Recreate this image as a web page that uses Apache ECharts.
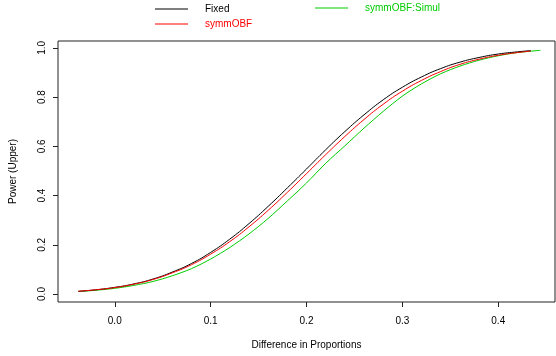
<!DOCTYPE html>
<html>
<head>
<meta charset="utf-8">
<script src="https://cdn.jsdelivr.net/npm/echarts@6/dist/echarts.min.js"></script>
<style>
  html, body { margin: 0; padding: 0; background: #fff; }
  #chart { width: 556px; height: 356px; }
</style>
</head>
<body>
<div id="chart"></div>
<script>
// Difference in proportions at which power was evaluated
var diffFixed = [-0.038, -0.02, 0.00, 0.02, 0.04, 0.06, 0.08, 0.10, 0.12, 0.14, 0.16, 0.18, 0.20,
                 0.22, 0.24, 0.26, 0.28, 0.30, 0.32, 0.34, 0.36, 0.38, 0.40, 0.42, 0.434];
var diffSimul = [-0.038, -0.02, 0.00, 0.02, 0.04, 0.06, 0.08, 0.10, 0.12, 0.14, 0.16, 0.18, 0.20,
                 0.22, 0.24, 0.26, 0.28, 0.30, 0.32, 0.34, 0.36, 0.38, 0.40, 0.42, 0.444];

// Upper power for each design
var powerFixed = [0.011, 0.017, 0.027, 0.041, 0.061, 0.089, 0.124, 0.169, 0.223, 0.286, 0.356, 0.431, 0.508,
                  0.586, 0.660, 0.728, 0.789, 0.840, 0.882, 0.916, 0.942, 0.961, 0.975, 0.984, 0.989];
var powerSymmOBF = [0.011, 0.017, 0.026, 0.040, 0.059, 0.086, 0.119, 0.162, 0.213, 0.273, 0.340, 0.413, 0.489,
                    0.566, 0.640, 0.709, 0.771, 0.824, 0.868, 0.904, 0.933, 0.954, 0.970, 0.981, 0.987];
var powerSimul = [0.010, 0.015, 0.023, 0.035, 0.051, 0.074, 0.103, 0.142, 0.189, 0.244, 0.307, 0.378, 0.451,
                  0.531, 0.602, 0.674, 0.742, 0.804, 0.854, 0.895, 0.926, 0.950, 0.968, 0.981, 0.990];

var xTicks = [0, 0.1, 0.2, 0.3, 0.4];
var yTicks = [0, 0.2, 0.4, 0.6, 0.8, 1.0];

var names = ['Fixed', 'symmOBF', 'symmOBF:Simul'];
var colors = ['#000000', '#ff0000', '#00cc00'];

function pairs(xs, ys) {
  return xs.map(function (x, i) { return [x, ys[i]]; });
}

var FONT = '"Liberation Sans", Arial, Helvetica, sans-serif';
var chart = echarts.init(document.getElementById('chart'), null, { renderer: 'canvas' });

var legendCommon = {
  orient: 'vertical', top: 3, padding: 0, icon: 'rect',
  itemWidth: 33, itemHeight: 1, itemGap: 3,
  textStyle: { fontFamily: FONT, fontSize: 10, lineHeight: 12, padding: [0, 0, 0, 12] }
};

chart.setOption({
  animation: false,
  backgroundColor: '#ffffff',
  textStyle: { fontFamily: FONT, fontSize: 10, color: '#000' },
  grid: {
    left: 53, top: 41, right: 1, bottom: 54,
    show: true, borderColor: '#222', borderWidth: 1, backgroundColor: 'transparent'
  },
  legend: [
    Object.assign({}, legendCommon, {
      left: 155,
      data: [
        { name: names[0], textStyle: { color: colors[0] } },
        { name: names[1], textStyle: { color: colors[1] } }
      ]
    }),
    Object.assign({}, legendCommon, {
      left: 315, top: 2,
      data: [
        { name: names[2], textStyle: { color: colors[2] } }
      ]
    })
  ],
  xAxis: {
    type: 'value', min: -0.0592, max: 0.4592,
    name: 'Difference in Proportions', nameLocation: 'middle', nameGap: 38,
    nameTextStyle: { fontFamily: FONT, fontSize: 10, color: '#000' },
    axisLine: { show: false, onZero: false },
    splitLine: { show: false },
    axisTick: { show: true, inside: false, length: 5, customValues: xTicks, lineStyle: { color: '#222' } },
    axisLabel: {
      customValues: xTicks, margin: 14, color: '#000', fontFamily: FONT, fontSize: 10,
      formatter: function (v) { return v.toFixed(1); }
    }
  },
  yAxis: {
    type: 'value', min: -0.0325, max: 1.028,
    name: 'Power (Upper)', nameLocation: 'middle', nameGap: 40,
    nameTextStyle: { fontFamily: FONT, fontSize: 10, color: '#000' },
    axisLine: { show: false, onZero: false },
    splitLine: { show: false },
    axisTick: { show: true, inside: false, length: 5, customValues: yTicks, lineStyle: { color: '#222' } },
    axisLabel: {
      customValues: yTicks, margin: 11, rotate: 90, color: '#000', fontFamily: FONT, fontSize: 10,
      formatter: function (v) { return v.toFixed(1); }
    }
  },
  series: [
    {
      name: names[2], type: 'line', data: pairs(diffSimul, powerSimul), smooth: 0.3,
      symbol: 'none', lineStyle: { color: colors[2], width: 1 }, itemStyle: { color: colors[2] }, z: 2
    },
    {
      name: names[0], type: 'line', data: pairs(diffFixed, powerFixed), smooth: true,
      symbol: 'none', lineStyle: { color: colors[0], width: 1 }, itemStyle: { color: colors[0] }, z: 3
    },
    {
      name: names[1], type: 'line', data: pairs(diffFixed, powerSymmOBF), smooth: true,
      symbol: 'none', lineStyle: { color: colors[1], width: 1 }, itemStyle: { color: colors[1] }, z: 4
    }
  ]
});
</script>
</body>
</html>
